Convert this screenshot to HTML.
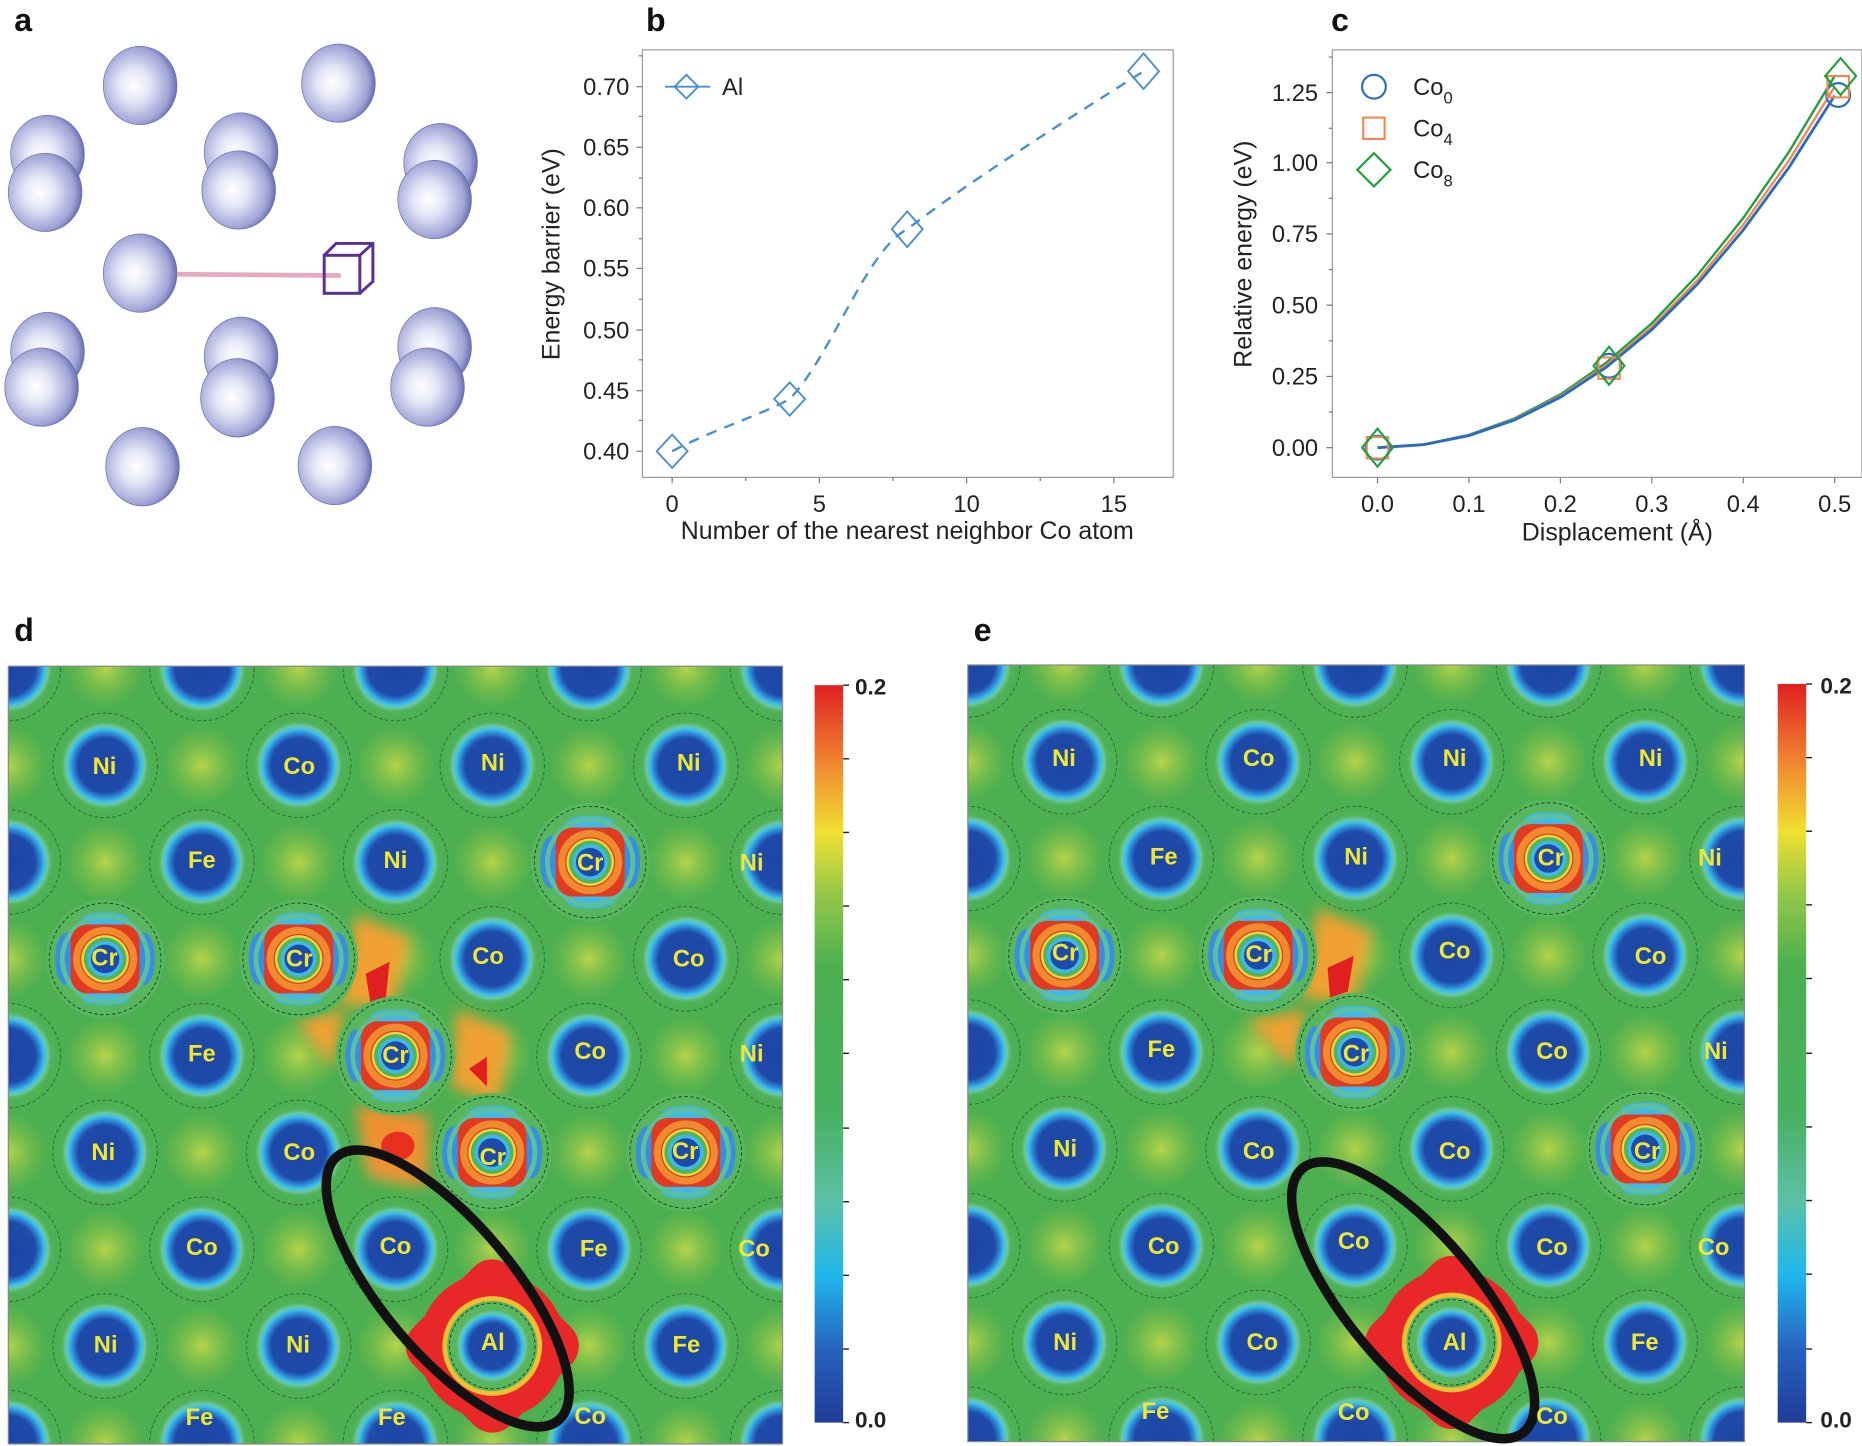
<!DOCTYPE html>
<html><head><meta charset="utf-8"><style>
html,body{margin:0;padding:0;background:#fff;}
svg{display:block;}
text{font-family:"Liberation Sans",Arial,sans-serif;}
</style></head><body>
<svg width="1862" height="1446" viewBox="0 0 1568 1217.7" xmlns="http://www.w3.org/2000/svg">
<defs>
 <radialGradient id="sph" cx="0.42" cy="0.5" r="0.6">
  <stop offset="0" stop-color="#ffffff"/><stop offset="0.35" stop-color="#e4e6f6"/>
  <stop offset="0.8" stop-color="#9fa4d6"/><stop offset="1" stop-color="#5e64a8"/>
 </radialGradient>
 <radialGradient id="atomg" cx="0.5" cy="0.5" r="0.5">
  <stop offset="0" stop-color="#1c46a6"/><stop offset="0.6" stop-color="#1e4aaa"/>
  <stop offset="0.72" stop-color="#2f8ad6"/><stop offset="0.8" stop-color="#3cc0ea"/>
  <stop offset="0.88" stop-color="#6cc8a0"/><stop offset="1" stop-color="#4cb050" stop-opacity="0"/>
 </radialGradient>
 <radialGradient id="yel" cx="0.5" cy="0.5" r="0.5">
  <stop offset="0" stop-color="#d8e048" stop-opacity="0.75"/><stop offset="1" stop-color="#9cc848" stop-opacity="0"/>
 </radialGradient>
 <radialGradient id="halo" cx="0.5" cy="0.5" r="0.5">
  <stop offset="0.6" stop-color="#52b35a"/><stop offset="1" stop-color="#52b35a" stop-opacity="0"/>
 </radialGradient>
 <linearGradient id="cbar" x1="0" y1="1" x2="0" y2="0">
  <stop offset="0" stop-color="#203c98"/><stop offset="0.1" stop-color="#2762c0"/>
  <stop offset="0.2" stop-color="#1fb8ec"/><stop offset="0.3" stop-color="#5cc0a8"/>
  <stop offset="0.42" stop-color="#48b060"/><stop offset="0.62" stop-color="#4cb050"/>
  <stop offset="0.72" stop-color="#98c848"/><stop offset="0.8" stop-color="#f0e030"/>
  <stop offset="0.9" stop-color="#f08030"/><stop offset="1" stop-color="#e02020"/>
 </linearGradient>
 <g id="atom">
  <circle r="48" fill="url(#halo)"/>
  <circle r="44" fill="none" stroke="#1a4a20" stroke-width="0.8" stroke-dasharray="3 2" opacity="0.7"/>
  <circle r="38" fill="url(#atomg)"/>
 </g>
 <g id="cr">
  <circle r="50" fill="#58b65e"/>
  <circle r="47" fill="none" stroke="#1a4a20" stroke-width="0.8" stroke-dasharray="3 2"/>
  <ellipse cx="-33" cy="0" rx="9" ry="22" fill="#3a8ee0"/>
  <ellipse cx="33" cy="0" rx="9" ry="22" fill="#3a8ee0"/>
  <ellipse cx="0" cy="-33" rx="20" ry="6" fill="#40b8e8"/>
  <ellipse cx="0" cy="33" rx="20" ry="6" fill="#40b8e8"/>
  <circle r="36" fill="none" stroke="#5cc0a0" stroke-width="4"/>
  <rect x="-29" y="-29" width="58" height="58" rx="14" fill="#e03a20"/>
  <circle r="24" fill="none" stroke="#f08a30" stroke-width="6"/>
  <circle r="20" fill="#e8d838"/>
  <circle r="18" fill="#50b45a"/>
  <circle r="15" fill="#40b8e8"/>
  <circle r="12" fill="#1e4aaa"/>
 </g>
 <g id="al">
  <rect x="-58" y="-58" width="116" height="116" rx="22" fill="#e82828" transform="rotate(45)"/>
  <circle r="62" fill="#e82828"/>
  <circle r="42" fill="#f0c030"/>
  <circle r="38" fill="#58b65e"/>
  <circle r="36" fill="none" stroke="#1a4a20" stroke-width="0.8" stroke-dasharray="3 2"/>
  <circle r="32" fill="url(#atomg)"/>
 </g>
 <pattern id="latd" patternUnits="userSpaceOnUse" x="7" y="563" width="163" height="163">
  <rect width="163" height="163" fill="#4caf50"/>
  <circle cx="81.5" cy="0" r="34" fill="url(#yel)"/><circle cx="0" cy="81.5" r="34" fill="url(#yel)"/>
  <circle cx="163" cy="81.5" r="34" fill="url(#yel)"/><circle cx="81.5" cy="163" r="34" fill="url(#yel)"/>
  <use href="#atom" x="0" y="0"/><use href="#atom" x="163" y="0"/><use href="#atom" x="0" y="163"/>
  <use href="#atom" x="163" y="163"/><use href="#atom" x="81.5" y="81.5"/>
 </pattern>
 <pattern id="late" patternUnits="userSpaceOnUse" x="815" y="560" width="163" height="163">
  <rect width="163" height="163" fill="#4caf50"/>
  <circle cx="81.5" cy="0" r="34" fill="url(#yel)"/><circle cx="0" cy="81.5" r="34" fill="url(#yel)"/>
  <circle cx="163" cy="81.5" r="34" fill="url(#yel)"/><circle cx="81.5" cy="163" r="34" fill="url(#yel)"/>
  <use href="#atom" x="0" y="0"/><use href="#atom" x="163" y="0"/><use href="#atom" x="0" y="163"/>
  <use href="#atom" x="163" y="163"/><use href="#atom" x="81.5" y="81.5"/>
 </pattern>
 <filter id="bl" x="-50%" y="-50%" width="200%" height="200%"><feGaussianBlur stdDeviation="6"/></filter>
 <clipPath id="cd"><rect x="7" y="561" width="652" height="655"/></clipPath>
 <clipPath id="ce"><rect x="815" y="560" width="654" height="654"/></clipPath>
</defs>

<!-- panel letters -->
<g font-weight="bold" font-size="27" fill="#111">
 <text x="12" y="26">a</text><text x="544" y="26">b</text><text x="1121" y="26">c</text>
 <text x="12" y="540">d</text><text x="820" y="540">e</text>
</g>

<!-- panel a -->
<g stroke="#6a70b0" stroke-width="0.6">
 <ellipse cx="118" cy="72" rx="31" ry="33" fill="url(#sph)"/>
 <ellipse cx="285" cy="70" rx="31" ry="33" fill="url(#sph)"/>
 <ellipse cx="40" cy="130" rx="31" ry="33" fill="url(#sph)"/>
 <ellipse cx="38" cy="162" rx="31" ry="33" fill="url(#sph)"/>
 <ellipse cx="203" cy="128" rx="31" ry="33" fill="url(#sph)"/>
 <ellipse cx="201" cy="160" rx="31" ry="33" fill="url(#sph)"/>
 <ellipse cx="371" cy="137" rx="31" ry="33" fill="url(#sph)"/>
 <ellipse cx="366" cy="168" rx="31" ry="33" fill="url(#sph)"/>
 <ellipse cx="118" cy="230" rx="31" ry="33" fill="url(#sph)"/>
 <ellipse cx="40" cy="296" rx="31" ry="33" fill="url(#sph)"/>
 <ellipse cx="35" cy="326" rx="31" ry="33" fill="url(#sph)"/>
 <ellipse cx="203" cy="300" rx="31" ry="33" fill="url(#sph)"/>
 <ellipse cx="200" cy="335" rx="31" ry="33" fill="url(#sph)"/>
 <ellipse cx="366" cy="292" rx="31" ry="33" fill="url(#sph)"/>
 <ellipse cx="360" cy="326" rx="31" ry="33" fill="url(#sph)"/>
 <ellipse cx="120" cy="393" rx="31" ry="33" fill="url(#sph)"/>
 <ellipse cx="282" cy="392" rx="31" ry="33" fill="url(#sph)"/>
</g>
<line x1="149" y1="231" x2="287" y2="232" stroke="#e8a8c0" stroke-width="4"/>
<g fill="none" stroke="#5a3090" stroke-width="2.5">
 <rect x="273" y="215" width="30" height="32"/>
 <polyline points="273,215 283,205 314,205 314,237 303,247"/><line x1="303" y1="215" x2="314" y2="205"/>
</g>

<!-- panel b -->
<rect x="541" y="42" width="447" height="360" fill="none" stroke="#999" stroke-width="1"/>
<g stroke="#777" stroke-width="1">
 <line x1="536" y1="380" x2="541" y2="380"/><line x1="536" y1="329" x2="541" y2="329"/>
 <line x1="536" y1="278" x2="541" y2="278"/><line x1="536" y1="226" x2="541" y2="226"/>
 <line x1="536" y1="175" x2="541" y2="175"/><line x1="536" y1="124" x2="541" y2="124"/>
 <line x1="536" y1="73" x2="541" y2="73"/>
 <line x1="538" y1="354" x2="541" y2="354"/><line x1="538" y1="303" x2="541" y2="303"/>
 <line x1="538" y1="252" x2="541" y2="252"/><line x1="538" y1="201" x2="541" y2="201"/>
 <line x1="538" y1="150" x2="541" y2="150"/><line x1="538" y1="98" x2="541" y2="98"/>
 <line x1="538" y1="47" x2="541" y2="47"/>
 <line x1="566" y1="402" x2="566" y2="407"/><line x1="690" y1="402" x2="690" y2="407"/>
 <line x1="814" y1="402" x2="814" y2="407"/><line x1="938" y1="402" x2="938" y2="407"/>
 <line x1="628" y1="402" x2="628" y2="405"/><line x1="752" y1="402" x2="752" y2="405"/>
 <line x1="876" y1="402" x2="876" y2="405"/>
</g>
<g font-size="20" fill="#222" text-anchor="end">
 <text x="530" y="387">0.40</text><text x="530" y="336">0.45</text><text x="530" y="285">0.50</text>
 <text x="530" y="233">0.55</text><text x="530" y="182">0.60</text><text x="530" y="131">0.65</text>
 <text x="530" y="80">0.70</text>
</g>
<g font-size="20" fill="#222" text-anchor="middle">
 <text x="566" y="431">0</text><text x="690" y="431">5</text><text x="814" y="431">10</text><text x="938" y="431">15</text>
 <text x="764" y="454" font-size="21">Number of the nearest neighbor Co atom</text>
 <text transform="translate(471,214) rotate(-90)" font-size="21">Energy barrier (eV)</text>
</g>
<path d="M566 380 C600 362,640 350,665 336 C700 300,730 210,764 193 C820 150,900 100,963 60" fill="none" stroke="#4a90d0" stroke-width="2" stroke-dasharray="9 7"/>
<g fill="none" stroke="#4a90d0" stroke-width="1.6">
 <polygon points="566,366 579,380 566,394 553,380"/><polygon points="665,322 678,336 665,350 652,336"/>
 <polygon points="764,178 777,193 764,208 751,193"/><polygon points="963,45 976,60 963,75 950,60"/>
 <line x1="560" y1="73" x2="598" y2="73"/><polygon points="578,63 588,73 578,83 568,73"/>
</g>
<text x="608" y="80" font-size="20" fill="#222">Al</text>

<!-- panel c -->
<rect x="1122" y="42" width="446" height="360" fill="none" stroke="#999" stroke-width="1"/>
<g stroke="#777" stroke-width="1">
 <line x1="1117" y1="377" x2="1122" y2="377"/><line x1="1117" y1="317" x2="1122" y2="317"/>
 <line x1="1117" y1="257" x2="1122" y2="257"/><line x1="1117" y1="197" x2="1122" y2="197"/>
 <line x1="1117" y1="137" x2="1122" y2="137"/><line x1="1117" y1="78" x2="1122" y2="78"/>
 <line x1="1119" y1="347" x2="1122" y2="347"/><line x1="1119" y1="287" x2="1122" y2="287"/>
 <line x1="1119" y1="227" x2="1122" y2="227"/><line x1="1119" y1="167" x2="1122" y2="167"/>
 <line x1="1119" y1="108" x2="1122" y2="108"/><line x1="1119" y1="48" x2="1122" y2="48"/>
 <line x1="1160" y1="402" x2="1160" y2="407"/><line x1="1237" y1="402" x2="1237" y2="407"/>
 <line x1="1314" y1="402" x2="1314" y2="407"/><line x1="1391" y1="402" x2="1391" y2="407"/>
 <line x1="1468" y1="402" x2="1468" y2="407"/><line x1="1545" y1="402" x2="1545" y2="407"/>
</g>
<g font-size="20" fill="#222" text-anchor="end">
 <text x="1110" y="384">0.00</text><text x="1110" y="324">0.25</text><text x="1110" y="264">0.50</text>
 <text x="1110" y="204">0.75</text><text x="1110" y="144">1.00</text><text x="1110" y="85">1.25</text>
</g>
<g font-size="20" fill="#222" text-anchor="middle">
 <text x="1160" y="431">0.0</text><text x="1237" y="431">0.1</text><text x="1314" y="431">0.2</text>
 <text x="1391" y="431">0.3</text><text x="1468" y="431">0.4</text><text x="1545" y="431">0.5</text>
 <text x="1362" y="455" font-size="21">Displacement (Å)</text>
 <text transform="translate(1054,214) rotate(-90)" font-size="21">Relative energy (eV)</text>
</g>
<g fill="none" stroke-width="2">
 <polyline stroke="#20a040" points="1160,377 1198.5,374.4 1237,366.2 1275.5,352.3 1314,332.2 1352.5,305.5 1391,272.2 1429.5,231.6 1468,183.6 1506.5,127.9 1545,64"/>
 <polyline stroke="#f08a50" points="1160,377 1198.5,374.4 1237,366.5 1275.5,353 1314,333.5 1352.5,307.6 1391,275.2 1429.5,235.9 1468,189.2 1506.5,135.2 1545,73"/>
 <polyline stroke="#2a6cc0" stroke-width="2.4" points="1160,377 1198.5,374.5 1237,366.8 1275.5,353.6 1314,334.5 1352.5,309.3 1391,277.6 1429.5,239.2 1468,193.7 1506.5,141 1545,80.5"/>
</g>
<g fill="none" stroke-width="1.8">
 <circle cx="1160" cy="377" r="10" stroke="#2a6cc0"/><circle cx="1355" cy="308" r="10" stroke="#2a6cc0"/><circle cx="1548" cy="80" r="10" stroke="#2a6cc0"/>
 <rect x="1151" y="368" width="18" height="18" stroke="#f08a50"/><rect x="1346" y="301" width="18" height="18" stroke="#f08a50"/><rect x="1539" y="64" width="18" height="18" stroke="#f08a50"/>
 <polygon points="1160,361 1173,377 1160,393 1147,377" stroke="#20a040"/>
 <polygon points="1355,292 1368,308 1355,324 1342,308" stroke="#20a040"/>
 <polygon points="1550,49 1563,64 1550,80 1537,64" stroke="#20a040"/>
 <circle cx="1157" cy="73" r="10" stroke="#2a6cc0"/>
 <rect x="1148" y="99" width="18" height="18" stroke="#f08a50"/>
 <polygon points="1157,129 1171,143 1157,157 1143,143" stroke="#20a040"/>
</g>
<g font-size="20" fill="#222">
 <text x="1190" y="80">Co<tspan font-size="14" dy="7">0</tspan></text>
 <text x="1190" y="115">Co<tspan font-size="14" dy="7">4</tspan></text>
 <text x="1190" y="150">Co<tspan font-size="14" dy="7">8</tspan></text>
</g>

<!-- panel d -->
<g clip-path="url(#cd)">
 <rect x="7" y="561" width="652" height="655" fill="url(#latd)"/>
 <g filter="url(#bl)">
  <polygon points="300,770 345,790 330,850 285,845" fill="#f0a030"/>
  <polygon points="385,850 430,870 420,930 380,915" fill="#f0a030"/>
  <polygon points="300,930 360,940 360,1000 310,990" fill="#f09030"/>
  <polygon points="250,860 290,850 280,900" fill="#f0a030"/>
 </g>
 <polygon points="308,820 328,810 325,840 312,845" fill="#e02020"/>
 <polygon points="395,900 410,890 410,915" fill="#e02020"/>
 <ellipse cx="335" cy="965" rx="14" ry="12" fill="#e83020"/>
 <use href="#cr" x="497" y="726"/><use href="#cr" x="88.5" y="807.5"/><use href="#cr" x="251.5" y="807.5"/>
 <use href="#cr" x="333" y="889"/><use href="#cr" x="414.5" y="970.5"/><use href="#cr" x="577.5" y="970.5"/>
 <use href="#al" x="414.5" y="1133.5"/>
</g>
<rect x="7" y="561" width="652" height="655" fill="none" stroke="#888" stroke-width="1"/>
<ellipse cx="377" cy="1085" rx="145" ry="55" transform="rotate(50 377 1085)" fill="none" stroke="#111" stroke-width="8"/>
<g font-size="20" font-weight="bold" fill="#f0e830" text-anchor="middle">
 <text x="88" y="652">Ni</text><text x="252" y="652">Co</text><text x="415" y="649">Ni</text><text x="580" y="649">Ni</text>
 <text x="170" y="731">Fe</text><text x="333" y="731">Ni</text><text x="497" y="733">Cr</text><text x="633" y="733">Ni</text>
 <text x="88" y="813">Cr</text><text x="252" y="814">Cr</text><text x="411" y="812">Co</text><text x="580" y="814">Co</text>
 <text x="170" y="894">Fe</text><text x="333" y="895">Cr</text><text x="497" y="892">Co</text><text x="633" y="894">Ni</text>
 <text x="87" y="977">Ni</text><text x="252" y="977">Co</text><text x="415" y="981">Cr</text><text x="577" y="976">Cr</text>
 <text x="170" y="1057">Co</text><text x="333" y="1056">Co</text><text x="500" y="1058">Fe</text><text x="635" y="1058">Co</text>
 <text x="89" y="1139">Ni</text><text x="251" y="1139">Ni</text><text x="415" y="1137">Al</text><text x="578" y="1139">Fe</text>
 <text x="168" y="1200">Fe</text><text x="330" y="1200">Fe</text><text x="497" y="1199">Co</text>
</g>
<rect x="686" y="577" width="24" height="621" fill="url(#cbar)"/>
<g stroke="#222" stroke-width="1.2">
 <line x1="710" y1="577" x2="715" y2="577"/><line x1="710" y1="639" x2="715" y2="639"/><line x1="710" y1="701" x2="715" y2="701"/>
 <line x1="710" y1="763" x2="715" y2="763"/><line x1="710" y1="825" x2="715" y2="825"/><line x1="710" y1="887" x2="715" y2="887"/>
 <line x1="710" y1="950" x2="715" y2="950"/><line x1="710" y1="1012" x2="715" y2="1012"/><line x1="710" y1="1074" x2="715" y2="1074"/>
 <line x1="710" y1="1136" x2="715" y2="1136"/><line x1="710" y1="1198" x2="715" y2="1198"/>
</g>
<g font-size="19" font-weight="bold" fill="#222"><text x="720" y="585">0.2</text><text x="720" y="1202">0.0</text></g>

<!-- panel e -->
<g clip-path="url(#ce)">
 <rect x="815" y="560" width="654" height="654" fill="url(#late)"/>
 <g filter="url(#bl)">
  <polygon points="1110,765 1155,785 1140,845 1095,840" fill="#f0a030"/>
  <polygon points="1050,860 1100,850 1090,900" fill="#f0a030"/>
 </g>
 <polygon points="1118,815 1140,805 1135,835 1120,840" fill="#e02020"/>
 <use href="#cr" x="1304" y="723"/><use href="#cr" x="896.5" y="804.5"/><use href="#cr" x="1059.5" y="804.5"/>
 <use href="#cr" x="1141" y="886"/><use href="#cr" x="1385.5" y="967.5"/>
 <use href="#al" x="1222.5" y="1130.5"/>
</g>
<rect x="815" y="560" width="654" height="654" fill="none" stroke="#888" stroke-width="1"/>
<ellipse cx="1190" cy="1095" rx="145" ry="55" transform="rotate(50 1190 1095)" fill="none" stroke="#111" stroke-width="8"/>
<g font-size="20" font-weight="bold" fill="#f0e830" text-anchor="middle">
 <text x="896" y="645">Ni</text><text x="1060" y="645">Co</text><text x="1225" y="645">Ni</text><text x="1390" y="645">Ni</text>
 <text x="980" y="728">Fe</text><text x="1142" y="728">Ni</text><text x="1306" y="729">Cr</text><text x="1440" y="729">Ni</text>
 <text x="897" y="809">Cr</text><text x="1060" y="810">Cr</text><text x="1225" y="807">Co</text><text x="1390" y="812">Co</text>
 <text x="978" y="890">Fe</text><text x="1142" y="894">Cr</text><text x="1307" y="892">Co</text><text x="1445" y="892">Ni</text>
 <text x="897" y="974">Ni</text><text x="1060" y="976">Co</text><text x="1225" y="976">Co</text><text x="1387" y="976">Cr</text>
 <text x="980" y="1056">Co</text><text x="1140" y="1052">Co</text><text x="1307" y="1057">Co</text><text x="1443" y="1057">Co</text>
 <text x="897" y="1137">Ni</text><text x="1063" y="1137">Co</text><text x="1225" y="1137">Al</text><text x="1385" y="1137">Fe</text>
 <text x="973" y="1195">Fe</text><text x="1140" y="1196">Co</text><text x="1307" y="1199">Co</text>
</g>
<rect x="1497" y="576" width="24" height="622" fill="url(#cbar)"/>
<g stroke="#222" stroke-width="1.2">
 <line x1="1521" y1="576" x2="1526" y2="576"/><line x1="1521" y1="638" x2="1526" y2="638"/><line x1="1521" y1="700" x2="1526" y2="700"/>
 <line x1="1521" y1="762" x2="1526" y2="762"/><line x1="1521" y1="824" x2="1526" y2="824"/><line x1="1521" y1="887" x2="1526" y2="887"/>
 <line x1="1521" y1="949" x2="1526" y2="949"/><line x1="1521" y1="1011" x2="1526" y2="1011"/><line x1="1521" y1="1073" x2="1526" y2="1073"/>
 <line x1="1521" y1="1136" x2="1526" y2="1136"/><line x1="1521" y1="1198" x2="1526" y2="1198"/>
</g>
<g font-size="19" font-weight="bold" fill="#222"><text x="1533" y="584">0.2</text><text x="1533" y="1202">0.0</text></g>
</svg>
</body></html>
